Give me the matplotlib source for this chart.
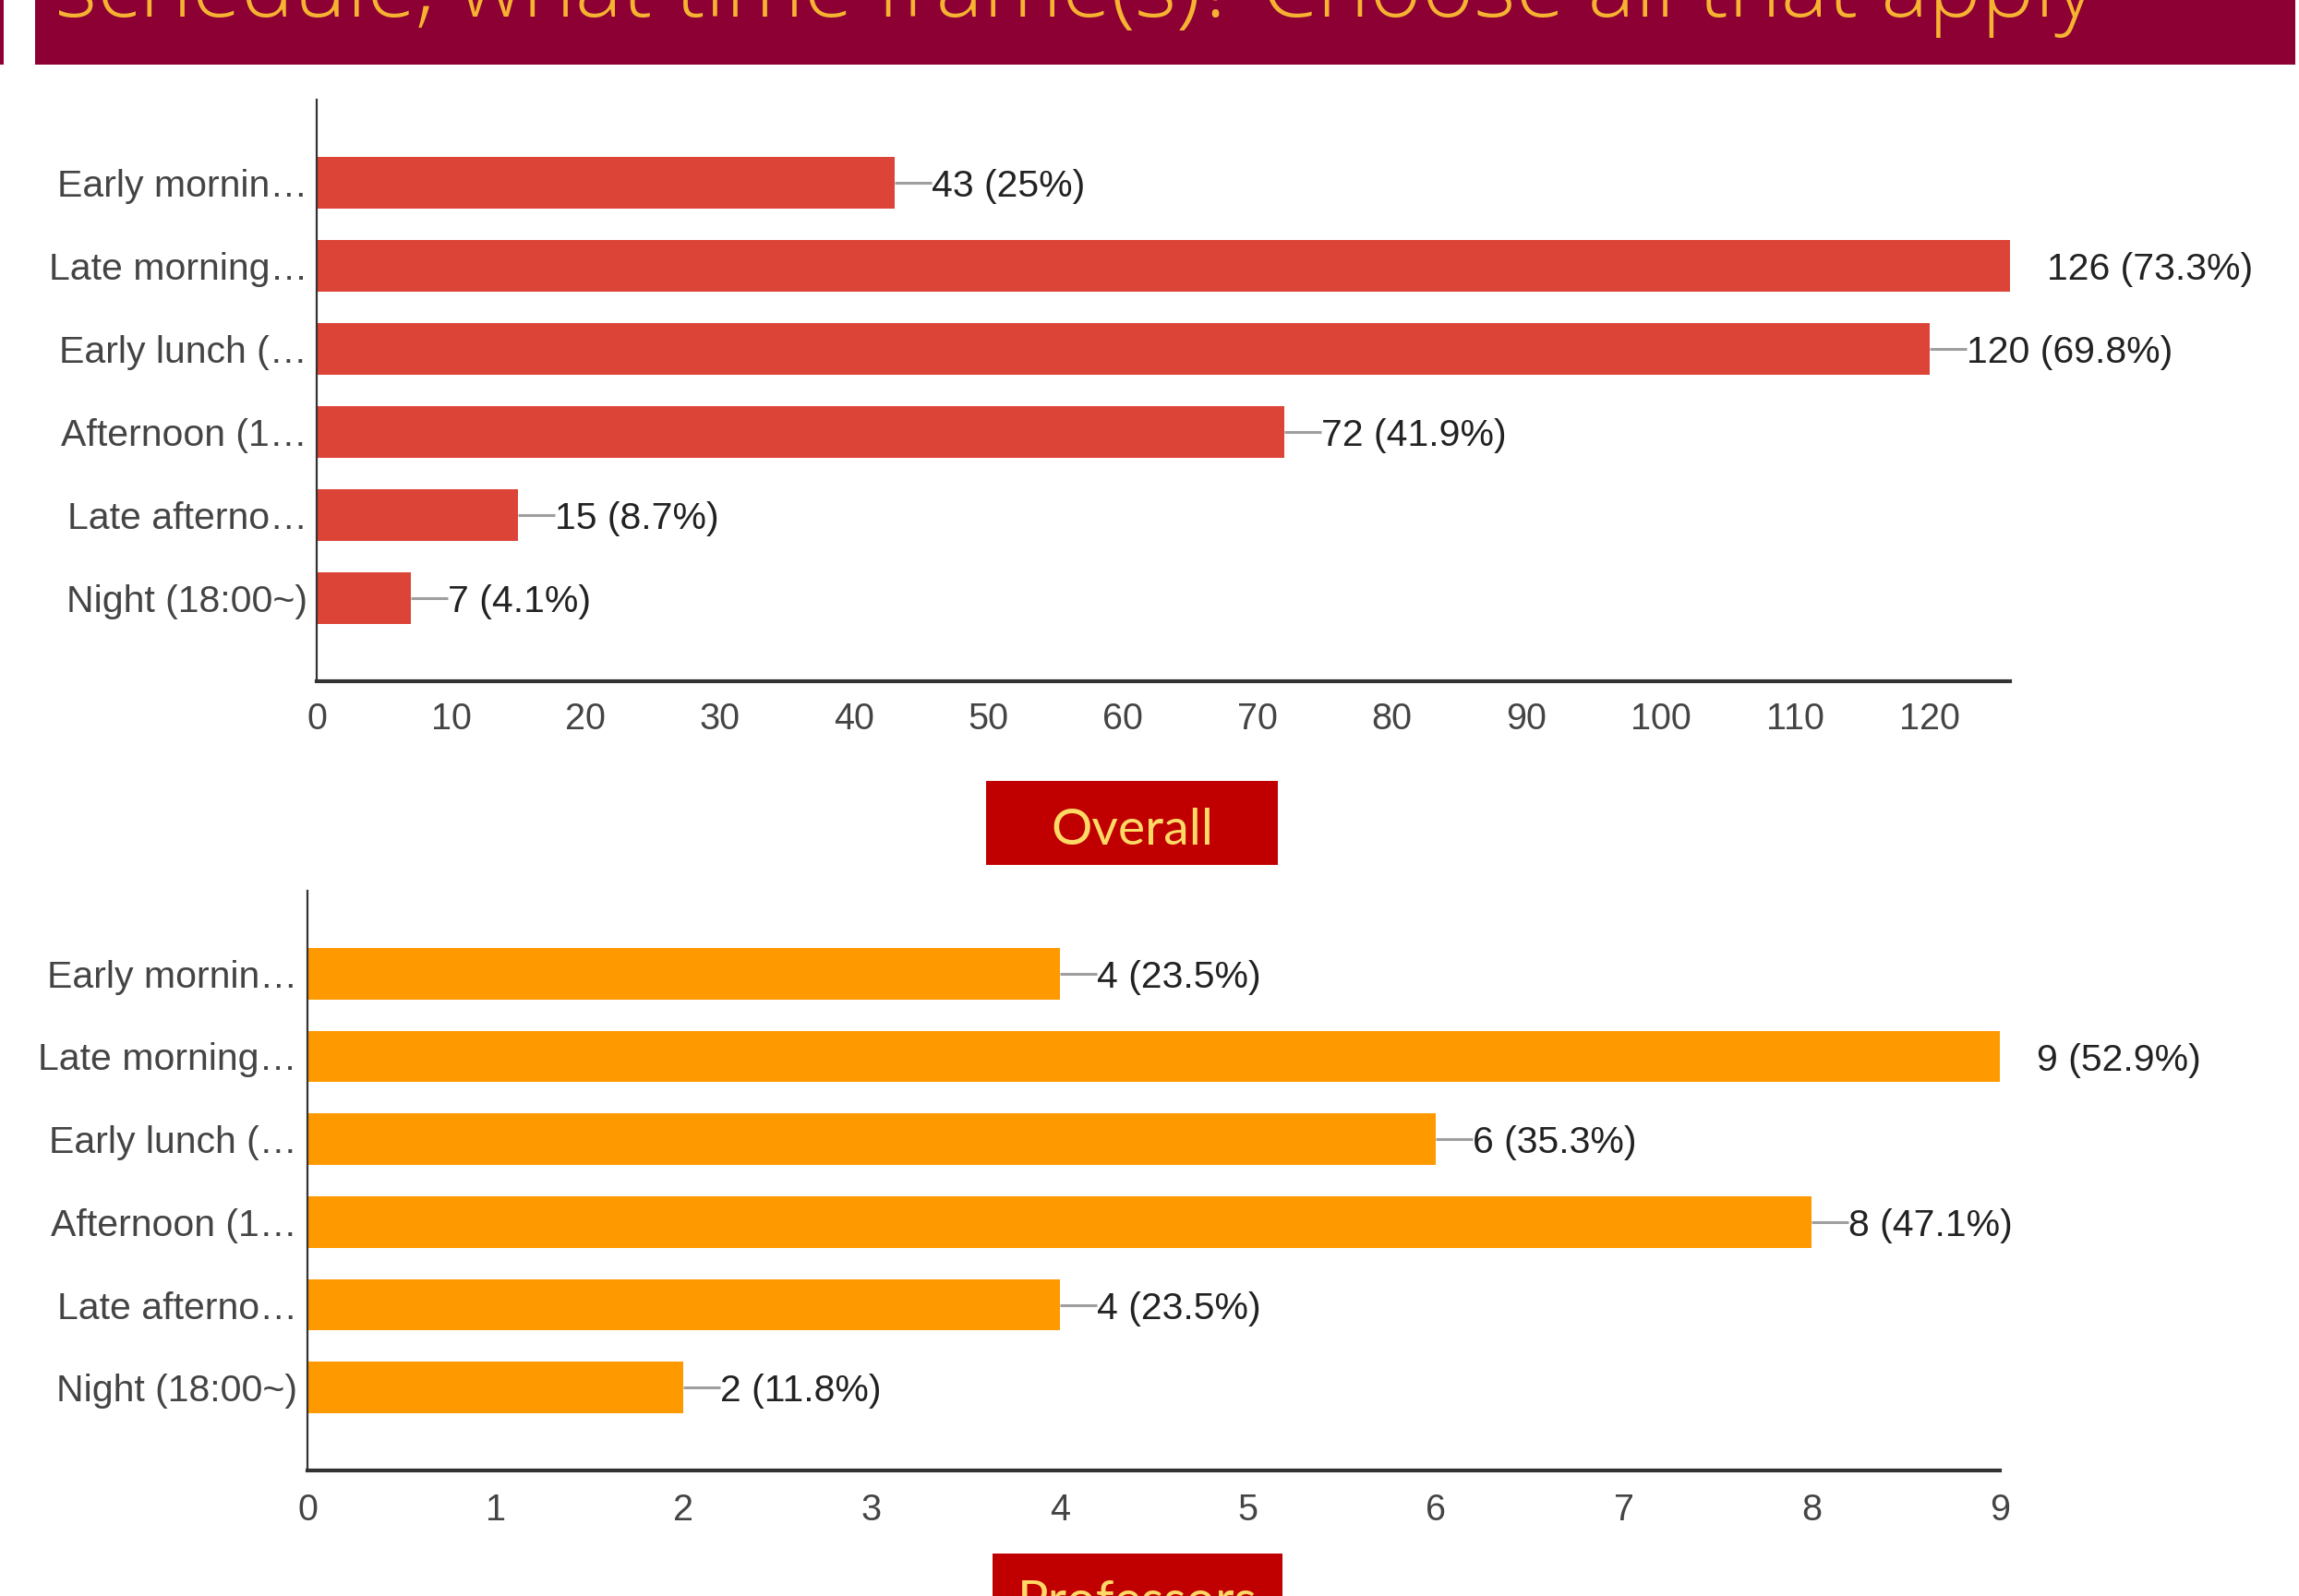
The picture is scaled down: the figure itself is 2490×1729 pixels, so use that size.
import matplotlib
matplotlib.use("Agg")
import matplotlib.pyplot as plt
from matplotlib.patches import Rectangle

W, H, DPI = 2490, 1729, 100

# ---------------- data ----------------
title_text = "schedule, what time frame(s)? Choose all that apply"
categories = ["Early mornin\u2026", "Late morning\u2026", "Early lunch (\u2026",
              "Afternoon (1\u2026", "Late afterno\u2026", "Night (18:00~)"]
overall_counts = [43, 126, 120, 72, 15, 7]
overall_pct = ["25%", "73.3%", "69.8%", "41.9%", "8.7%", "4.1%"]
overall_ticks = [0, 10, 20, 30, 40, 50, 60, 70, 80, 90, 100, 110, 120]
prof_counts = [4, 9, 6, 8, 4, 2]
prof_pct = ["23.5%", "52.9%", "35.3%", "47.1%", "23.5%", "11.8%"]
prof_ticks = [0, 1, 2, 3, 4, 5, 6, 7, 8, 9]
panel_names = ["Overall", "Professors"]

# ---------------- style ----------------
SANS = ["Liberation Sans", "DejaVu Sans"]
SLIDE = ["Lato", "Open Sans", "DejaVu Sans"]
TITLE_FONT = ["Open Sans", "Lato", "DejaVu Sans"]
MAROON = "#8C0034"
GOLD = "#F6B331"
BOX_RED = "#C00000"
BOX_TXT = "#FFD966"
RED = "#DC4437"
ORANGE = "#FF9900"

fig = plt.figure(figsize=(W / DPI, H / DPI), dpi=DPI)
fig.patch.set_facecolor("white")


def fx(x):
    return x / W


def fy(y):
    return 1 - y / H


def add_rect(x0, y0, x1, y1, color):
    fig.patches.append(Rectangle((fx(x0), fy(y1)), fx(x1) - fx(x0), fy(y0) - fy(y1),
                                 transform=fig.transFigure, facecolor=color,
                                 edgecolor="none", zorder=0))


# header band
add_rect(0, 0, 4, 70, MAROON)
add_rect(38, 0, 2486, 70, MAROON)

renderer = fig.canvas.get_renderer()


def fitted_text(x, y, s, target_w, base_size, **kw):
    t = fig.text(fx(x), fy(y), s, fontsize=base_size, **kw)
    w = t.get_window_extent(renderer=renderer).width
    t.set_fontsize(base_size * target_w / w)
    return t


fitted_text(60, 18, title_text, 2207, 60, color=GOLD, family=TITLE_FONT,
            fontweight=300, ha="left", va="baseline")

OFFSET_PX = 40


def panel(left, top, right, bottom, xmax, ticks, counts, pcts, color,
          label_pad_y, tick_pad_x):
    ax = fig.add_axes([fx(left), fy(bottom), fx(right) - fx(left), fy(top) - fy(bottom)])
    n = len(counts)
    ypos = list(range(n))
    ax.barh(ypos, counts, height=0.62, color=color, zorder=2, edgecolor="none")
    ax.set_xlim(0, xmax)
    ax.set_ylim(n, -1)
    ax.set_yticks(ypos)
    ax.set_yticklabels(categories, family=SANS, fontsize=29.5, color="#444444")
    ax.set_xticks(ticks)
    ax.set_xticklabels([str(t) for t in ticks], family=SANS, fontsize=28.5, color="#444444")
    ax.tick_params(axis="both", length=0)
    ax.tick_params(axis="y", pad=label_pad_y)
    ax.tick_params(axis="x", pad=tick_pad_x)
    for s in ("top", "right"):
        ax.spines[s].set_visible(False)
    ax.spines["left"].set_color("#333333")
    ax.spines["left"].set_linewidth(1.6)
    ax.spines["bottom"].set_color("#333333")
    ax.spines["bottom"].set_linewidth(3.0)
    ax.set_facecolor("none")
    dx = OFFSET_PX * xmax / (right - left)
    for i, (v, p) in enumerate(zip(counts, pcts)):
        ax.plot([v, v + dx], [i, i], color="#9E9E9E", lw=2.2, zorder=1,
                solid_capstyle="butt", clip_on=True)
        ax.annotate(f"{v} ({p})", xy=(v, i), xytext=(OFFSET_PX * 72 / DPI, -3),
                    textcoords="offset points", family=SANS, fontsize=29.5,
                    color="#222222", ha="left", va="center", annotation_clip=False)
    return ax


panel(343, 108, 2177, 738, 126, overall_ticks, overall_counts, overall_pct, RED,
      label_pad_y=7, tick_pad_x=16)
panel(333, 965, 2166, 1593, 9, prof_ticks, prof_counts, prof_pct, ORANGE,
      label_pad_y=8, tick_pad_x=17)

# panel name boxes
add_rect(1068, 846, 1384, 937, BOX_RED)
fitted_text(1226, 915, panel_names[0], 176, 40, color=BOX_TXT, family=SLIDE,
            ha="center", va="baseline")
add_rect(1075, 1683, 1389, 1740, BOX_RED)
fitted_text(1232, 1752, panel_names[1], 260, 40, color=BOX_TXT, family=SLIDE,
            ha="center", va="baseline")

fig.savefig("out.png", dpi=DPI)
